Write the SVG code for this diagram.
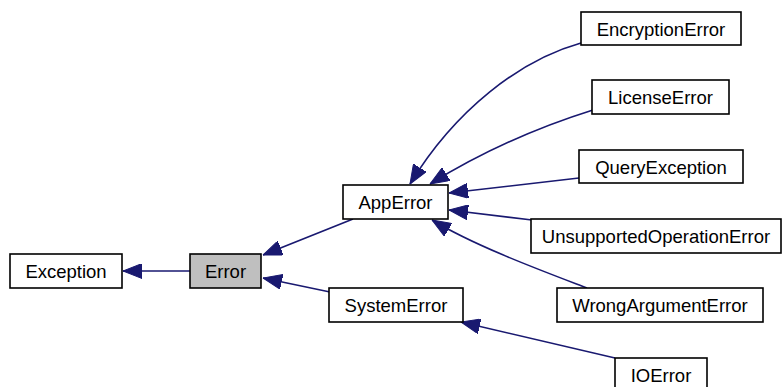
<svg xmlns="http://www.w3.org/2000/svg" width="783" height="387" viewBox="0 0 783 387">
  <style>
    .node rect { fill: #ffffff; stroke: #000000; stroke-width: 1.6; }
    .node.current rect { fill: #bfbfbf; }
    .node text { font-family: "Liberation Sans", Arial, Helvetica, sans-serif; font-size: 18.5px; fill: #000000; text-anchor: middle; }
    .edges path { fill: none; stroke: #191970; stroke-width: 1.6; marker-end: url(#arrow); }
  </style>
  <defs>
    <marker id="arrow" viewBox="0 0 19 15" refX="19" refY="7.5" markerWidth="19" markerHeight="15" markerUnits="userSpaceOnUse" orient="auto">
      <path d="M0,0 L19,7.5 L0,15 Z" fill="#191970" stroke="#191970" stroke-width="1"/>
    </marker>
  </defs>
  <rect width="783" height="387" fill="#ffffff"/>

  <!-- inheritance edges: child to base class -->
  <g id="edges" class="edges">
    <path d="M190,271 L123,271"/>
    <path d="M353,219 L263,255"/>
    <path d="M330,292 L263,278"/>
    <path d="M581,43 C520,60 455,110 410,184"/>
    <path d="M593,110 C545,125 485,150 430,184"/>
    <path d="M579,178 L449,193"/>
    <path d="M532,220 L449,210"/>
    <path d="M587,288 C540,270 475,246 432,220"/>
    <path d="M615,358 L461,322"/>
  </g>

  <g id="Exception" class="node">
    <rect x="10" y="254" width="112" height="34"/>
    <text x="66" y="277.5">Exception</text>
  </g>
  <g id="Error" class="node current">
    <rect x="190" y="254" width="71" height="34"/>
    <text x="225.5" y="277.5">Error</text>
  </g>
  <g id="AppError" class="node">
    <rect x="343" y="185" width="105" height="34"/>
    <text x="395.5" y="208.5">AppError</text>
  </g>
  <g id="SystemError" class="node">
    <rect x="329" y="288" width="134" height="34"/>
    <text x="396" y="311.5">SystemError</text>
  </g>
  <g id="EncryptionError" class="node">
    <rect x="581" y="12" width="160" height="33"/>
    <text x="661" y="35.5">EncryptionError</text>
  </g>
  <g id="LicenseError" class="node">
    <rect x="592" y="80" width="137" height="34"/>
    <text x="660.5" y="103.5">LicenseError</text>
  </g>
  <g id="QueryException" class="node">
    <rect x="579" y="150" width="164" height="33"/>
    <text x="661" y="173.5">QueryException</text>
  </g>
  <g id="UnsupportedOperationError" class="node">
    <rect x="531" y="219" width="250" height="34"/>
    <text x="656" y="242.5">UnsupportedOperationError</text>
  </g>
  <g id="WrongArgumentError" class="node">
    <rect x="557" y="288" width="206" height="34"/>
    <text x="660" y="311.5">WrongArgumentError</text>
  </g>
  <g id="IOError" class="node">
    <rect x="615" y="358" width="92" height="34"/>
    <text x="661" y="381.5">IOError</text>
  </g>
</svg>
